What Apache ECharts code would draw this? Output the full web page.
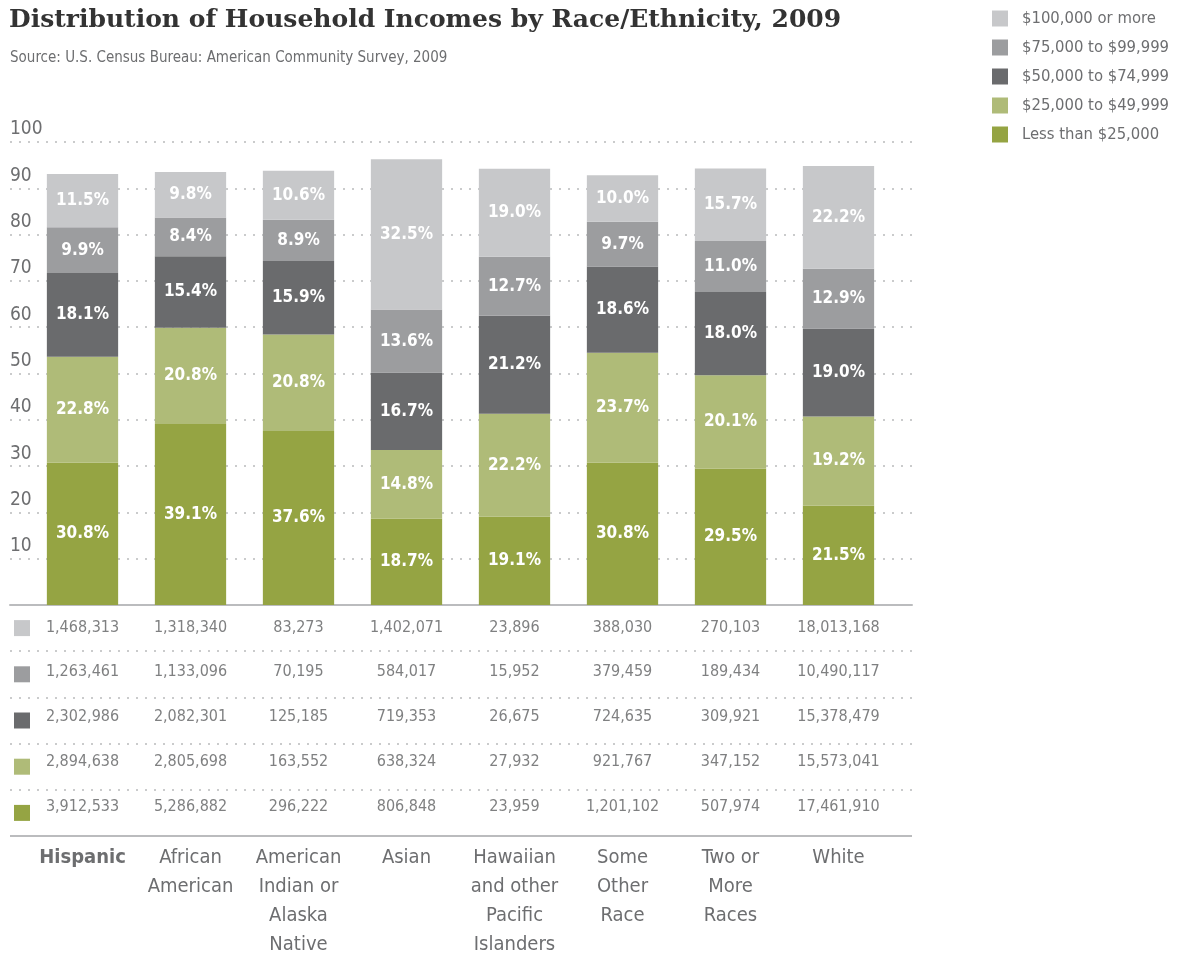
<!DOCTYPE html>
<html>
<head>
<meta charset="utf-8">
<title>Distribution of Household Incomes by Race/Ethnicity, 2009</title>
<script src="https://cdn.jsdelivr.net/npm/echarts@6/dist/echarts.min.js"></script>
<style>
    html, body { margin: 0; padding: 0; background: #fff; }
    #chart { width: 1183px; height: 959px; }
</style>
</head>
<body>
<div id="chart"></div>
<script>
// 数据
var categories = ['Hispanic', 'African\nAmerican', 'American\nIndian or\nAlaska\nNative', 'Asian',
    'Hawaiian\nand other\nPacific\nIslanders', 'Some\nOther\nRace', 'Two or\nMore\nRaces', 'White'];
var bracketNames = ['$100,000 or more', '$75,000 to $99,999', '$50,000 to $74,999', '$25,000 to $49,999', 'Less than $25,000'];
var bracketColors = ['#c7c8ca', '#9c9d9f', '#6a6b6d', '#afbb78', '#95a443'];
var yTicks = [0, 10, 20, 30, 40, 50, 60, 70, 80, 90, 100];

// 百分比 (从上到下)
var pct100 = [11.5, 9.8, 10.6, 32.5, 19.0, 10.0, 15.7, 22.2];
var pct75 = [9.9, 8.4, 8.9, 13.6, 12.7, 9.7, 11.0, 12.9];
var pct50 = [18.1, 15.4, 15.9, 16.7, 21.2, 18.6, 18.0, 19.0];
var pct25 = [22.8, 20.8, 20.8, 14.8, 22.2, 23.7, 20.1, 19.2];
var pctLess = [30.8, 39.1, 37.6, 18.7, 19.1, 30.8, 29.5, 21.5];

// 家庭数
var count100 = [1468313, 1318340, 83273, 1402071, 23896, 388030, 270103, 18013168];
var count75 = [1263461, 1133096, 70195, 584017, 15952, 379459, 189434, 10490117];
var count50 = [2302986, 2082301, 125185, 719353, 26675, 724635, 309921, 15378479];
var count25 = [2894638, 2805698, 163552, 638324, 27932, 921767, 347152, 15573041];
var countLess = [3912533, 5286882, 296222, 806848, 23959, 1201102, 507974, 17461910];

var FONT = '"Liberation Sans Narrow", "DejaVu Sans Condensed", "Roboto", sans-serif';
var GREY_TEXT = '#6d6e70';

function buildTableData() {
    var rows = [count100, count75, count50, count25, countLess];
    var out = [];
    for (var r = 0; r < rows.length; r++) {
        for (var c = 0; c < rows[r].length; c++) {
            out.push([c, r, rows[r][c]]);
        }
    }
    return out;
}

function barSeries(name, data, colorIdx) {
    return {
        name: name,
        type: 'bar',
        stack: 'inc',
        xAxisIndex: 0,
        yAxisIndex: 0,
        barCategoryGap: '34%',
        data: data,
        itemStyle: { color: bracketColors[colorIdx] },
        label: {
            show: true,
            color: '#fff',
            fontFamily: FONT,
            fontWeight: 'bold',
            fontSize: 17,
            formatter: function (p) { return p.value.toFixed(1) + '%'; }
        },
        emphasis: { disabled: true }
    };
}

var dotted = { color: '#b9babc', width: 1.5, type: [2, 7] };
var squareRich = {};
for (var i = 0; i < bracketColors.length; i++) {
    squareRich['s' + i] = { backgroundColor: bracketColors[i], width: 16, height: 16 };
}

var option = {
    animation: false,
    title: [{
        text: 'Distribution of Household Incomes by Race/Ethnicity, 2009',
        left: 9, top: 8, padding: 0,
        textStyle: { fontFamily: '"DejaVu Serif", serif', fontWeight: 'bold', fontSize: 25, color: '#333' }
    }, {
        text: 'Source: U.S. Census Bureau: American Community Survey, 2009',
        left: 10, top: 51, padding: 0,
        textStyle: { fontFamily: FONT, fontWeight: 'normal', fontSize: 15, color: GREY_TEXT }
    }],
    legend: {
        orient: 'vertical',
        left: 992, top: 10, padding: 0,
        icon: 'rect',
        itemWidth: 16, itemHeight: 16, itemGap: 12,
        selectedMode: false,
        data: bracketNames,
        textStyle: { fontFamily: FONT, fontSize: 16.5, color: GREY_TEXT, padding: [0, 0, 0, 9] }
    },
    grid: [
        { left: 28.5, width: 864, top: 142, height: 463 },  // bars
        { left: 10, width: 902, top: 142, height: 463 },    // grid lines
        { left: 10, width: 902, top: 605, height: 231 },    // table lines
        { left: 28.5, width: 864, top: 605, height: 231 }   // table values
    ],
    xAxis: [
        { gridIndex: 0, type: 'category', data: categories, show: false },
        { gridIndex: 1, type: 'value', min: 0, max: 1, axisLabel: { show: false }, axisTick: { show: false },
            splitLine: { show: false }, axisLine: { show: true, onZero: false, lineStyle: { color: '#bbbcbe', width: 2 } } },
        { gridIndex: 2, type: 'value', min: 0, max: 1, show: false },
        { gridIndex: 3, type: 'category', data: categories, position: 'bottom',
            axisTick: { show: false }, axisLine: { show: false },
            axisLabel: {
                interval: 0, margin: 14, fontFamily: FONT, fontSize: 20, lineHeight: 29, color: GREY_TEXT,
                formatter: function (v, idx) { return idx === 0 ? '{b|' + v + '}' : v; },
                rich: { b: { fontFamily: FONT, fontSize: 20, fontWeight: 'bold', color: GREY_TEXT } }
            } }
    ],
    yAxis: [
        { gridIndex: 0, type: 'value', min: 0, max: 100, show: false },
        { gridIndex: 1, type: 'value', min: yTicks[0], max: yTicks[yTicks.length - 1], interval: 10,
            axisLine: { show: false }, axisTick: { show: false },
            splitLine: { show: true, lineStyle: dotted },
            axisLabel: {
                inside: true, margin: 0, align: 'left', verticalAlign: 'bottom', padding: [0, 0, 3, 0],
                fontFamily: FONT, fontSize: 19, color: GREY_TEXT,
                formatter: function (v) { return v === 0 ? '' : String(v); }
            } },
        { gridIndex: 2, type: 'category', inverse: true, data: bracketNames,
            axisLine: { show: false }, axisTick: { show: false },
            splitLine: { show: true, lineStyle: dotted },
            axisLabel: {
                inside: true, margin: 4, align: 'left',
                formatter: function (v, idx) { return '{s' + idx + '|}'; },
                rich: squareRich
            } },
        { gridIndex: 3, type: 'category', inverse: true, data: bracketNames, show: false }
    ],
    series: [
        barSeries(bracketNames[4], pctLess, 4),
        barSeries(bracketNames[3], pct25, 3),
        barSeries(bracketNames[2], pct50, 2),
        barSeries(bracketNames[1], pct75, 1),
        barSeries(bracketNames[0], pct100, 0),
        {
            name: 'counts',
            type: 'scatter',
            xAxisIndex: 3,
            yAxisIndex: 3,
            symbolSize: 1,
            itemStyle: { color: 'rgba(0,0,0,0)' },
            data: buildTableData(),
            label: {
                show: true,
                position: 'inside',
                fontFamily: FONT,
                fontSize: 16,
                color: '#5f6062',
                formatter: function (p) { return p.value[2].toLocaleString('en-US'); }
            },
            emphasis: { disabled: true }
        },
        {
            // 底部实线
            type: 'line', xAxisIndex: 2, yAxisIndex: 2, data: [], silent: true,
            markLine: {
                silent: true, symbol: 'none', label: { show: false },
                lineStyle: { color: '#bbbcbe', width: 2, type: 'solid' },
                data: [[{ coord: [0, 4], y: 836 }, { coord: [1, 4], y: 836 }]]
            }
        }
    ]
};

var myChart = echarts.init(document.getElementById('chart'));
myChart.setOption(option, true);
</script>
</body>
</html>
